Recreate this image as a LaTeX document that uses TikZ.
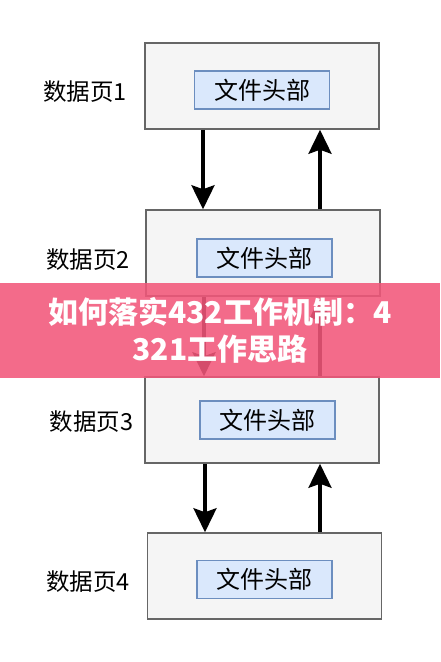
\documentclass[tikz,border=0pt]{standalone}
\usepackage{fontspec}
\setmainfont{Noto Sans CJK SC}
\usetikzlibrary{arrows.meta,positioning}
\definecolor{PG}{HTML}{F5F5F5}
\definecolor{PE}{HTML}{666666}
\definecolor{HB}{HTML}{DAE8FC}
\definecolor{HE}{HTML}{6C8EBF}
\definecolor{BN}{HTML}{F2577A}

\tikzset{
  pagebox/.style={draw=PE, fill=PG, line width=1.5pt,
                  minimum width=234pt, minimum height=86pt, inner sep=0pt},
  headbox/.style={draw=HE, fill=HB, line width=1.2pt,
                  minimum width=135pt, minimum height=38pt, inner sep=0pt,
                  font=\fontsize{24}{24}\selectfont},
  pagelabel/.style={font=\fontsize{23.5}{23.5}\selectfont},
  flow/.style={line width=3.5pt, -{Stealth[length=24pt,width=23pt,inset=4pt]}}
}

\begin{document}
\begin{tikzpicture}[x=1pt, y=-1pt]
    \fill[white] (0,0) rectangle (440,662);
    \useasboundingbox (0,0) rectangle (440,662);

    % pages
    \node[pagebox] (p1) at (262,86) {};
    \node[headbox] (h1) at (262,90) {文件头部};
    \node[pagelabel] (l1) at (85,92) {数据页1};

    \node[pagebox] (p2) at (263,253) {};
    \node[headbox] (h2) at (264.5,258) {文件头部};
    \node[pagelabel] (l2) at (88,260) {数据页2};

    \node[pagebox] (p3) at (262,420) {};
    \node[headbox] (h3) at (267.5,420) {文件头部};
    \node[pagelabel] (l3) at (91.5,422) {数据页3};

    \node[pagebox] (p4) at (264.5,576) {};
    \node[headbox] (h4) at (264.5,579.5) {文件头部};
    \node[pagelabel] (l4) at (88,582) {数据页4};

    % links
    \draw[flow] ([xshift=-59pt]p1.south) -- ([xshift=-59pt]p1.south |- p2.north);
    \draw[flow] ([xshift=58pt]p1.south |- p2.north) -- ([xshift=58pt]p1.south);
    \draw[flow] ([xshift=-59pt]p2.south) -- ([xshift=-59pt]p2.south |- p3.north);
    \draw[flow] ([xshift=58pt]p1.south |- p3.north) -- ([xshift=58pt]p1.south |- p2.south);
    \draw[flow] ([xshift=-57pt]p3.south) -- ([xshift=-57pt]p3.south |- p4.north);
    \draw[flow] ([xshift=58pt]p1.south |- p4.north) -- ([xshift=58pt]p1.south |- p3.south);

    % banner
    \fill[BN, opacity=0.88] (0,283) rectangle (440,378);
    \node[text=white, align=center,
          font=\fontsize{30}{37}\selectfont\bfseries] (title) at (220,330.5)
      {如何落实432工作机制：4\\321工作思路};
\end{tikzpicture}
\end{document}
